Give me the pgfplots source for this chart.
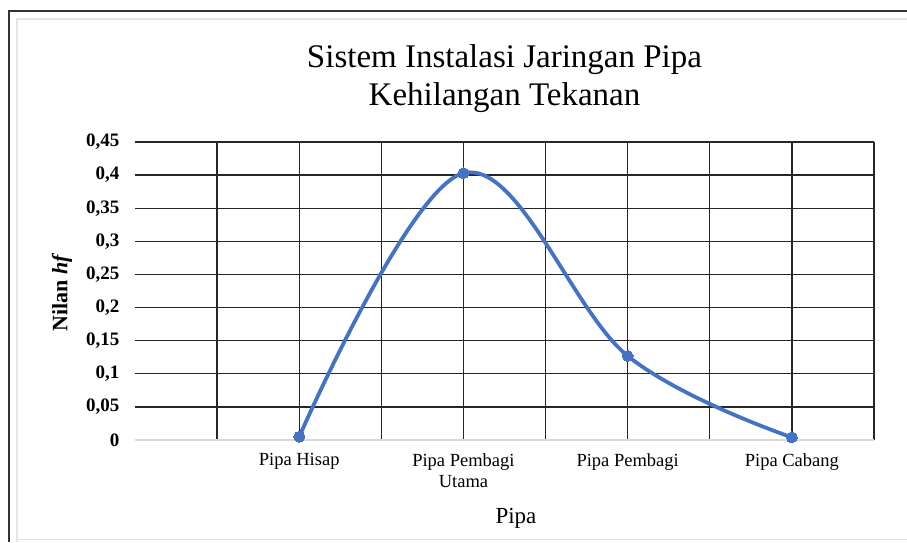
\documentclass[border=0pt]{standalone}
\usepackage{pgfplots}
\pgfplotsset{compat=1.18}
\usepackage{fontspec}
\setmainfont{Liberation Serif}
\definecolor{exblue}{HTML}{4472C4}
\begin{document}
\begin{tikzpicture}[x=1pt,y=1pt]
\useasboundingbox (-135,-102) rectangle (772,440);
% chart frame
\draw[line width=1.6pt, black!80] (-126,-102) -- (-126,429) -- (772,429);
\draw[line width=1.6pt, black!10] (-118,-102) -- (-118,421) -- (772,421);
\draw[line width=1.6pt, black!10] (-118,-99.5) -- (772,-99.5);
\begin{axis}[
  at={(0,0)}, anchor=south west,
  scale only axis, width=739pt, height=298pt,
  xmin=0, xmax=9, ymin=0, ymax=0.45,
  axis line style={draw=none},
  xtick={2,4,6,8},
  xticklabels={Pipa Hisap,{Pipa Pembagi\\Utama},Pipa Pembagi,Pipa Cabang},
  minor xtick={1,3,5,7,9},
  xmajorgrids, xminorgrids, ymajorgrids,
  major grid style={black!85, line width=1.3pt},
  minor grid style={black!85, line width=1.3pt},
  ytick={0,0.05,0.1,0.15,0.2,0.25,0.3,0.35,0.4,0.45},
  yticklabels={0,{0,05},{0,1},{0,15},{0,2},{0,25},{0,3},{0,35},{0,4},{0,45}},
  major tick length=0pt, minor tick length=0pt,
  yticklabel style={font=\fontsize{19}{19}\selectfont\bfseries, xshift=-12pt},
  xticklabel style={font=\fontsize{18.5}{21}\selectfont, align=center, yshift=-10pt, anchor=north},
  clip=false,
]
\draw[black!15, line width=1.5pt] (axis cs:0,0) -- (axis cs:9,0);
\addplot[exblue, line width=3.8pt, smooth, tension=0.6, mark=*, mark size=5.5pt,
  mark options={fill=exblue, draw=exblue, line width=0pt}]
  coordinates {(2,0.005) (4,0.403) (6,0.127) (8,0.004)};
\end{axis}
% titles and axis labels
\node[anchor=base, font=\fontsize{33}{38}\selectfont] at (369.5,373) {Sistem Instalasi Jaringan Pipa};
\node[anchor=base, font=\fontsize{33}{38}\selectfont] at (369.5,335) {Kehilangan Tekanan};
\node[rotate=90, font=\fontsize{22}{22}\selectfont\bfseries] at (-73,148) {Nilan \textit{hf}};
\node[anchor=base, font=\fontsize{23}{23}\selectfont] at (381,-83) {Pipa};
\end{tikzpicture}
\end{document}
